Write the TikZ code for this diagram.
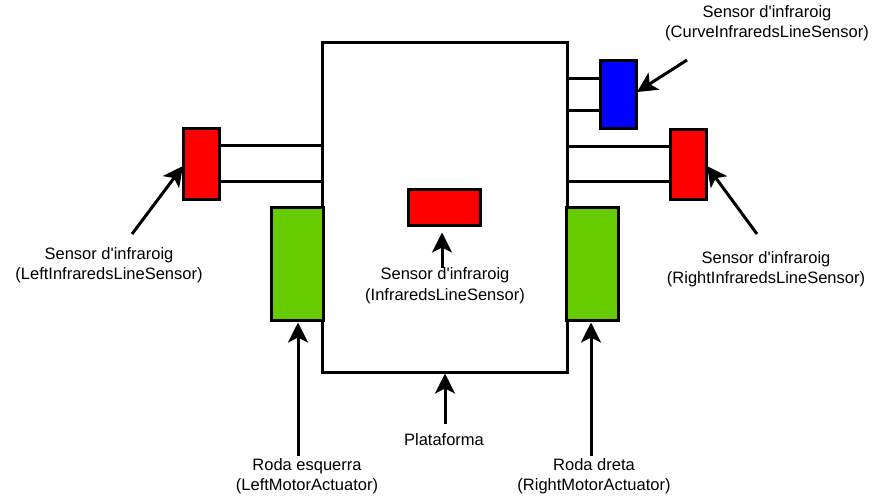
\documentclass[tikz,border=0pt]{standalone}
\usepackage{fontspec}
\setmainfont{Liberation Sans}
\usetikzlibrary{arrows.meta}
\definecolor{rred}{RGB}{255,0,0}
\definecolor{bblue}{RGB}{0,0,255}
\definecolor{ggreen}{RGB}{102,204,0}
\newcommand{\dq}{d\textquotesingle infraroig}
\tikzset{
  box/.style={draw=black, line width=3pt, inner sep=0pt, minimum width=#1},
  lbl/.style={align=center, inner sep=0pt, font=\fontsize{16.5}{20.5}\selectfont},
  conn/.style={line width=3pt},
  arr/.style={line width=3pt, -{Stealth[length=20pt,width=20pt,inset=5pt]}}
}
\begin{document}
\begin{tikzpicture}[x=1pt,y=-1pt]
\useasboundingbox (0,0) rectangle (874,496);
% platform
\node[box=245pt, minimum height=330pt, fill=white] (plat) at (444.5,207) {};
% side sensors
\node[box=36pt, minimum height=71pt, fill=rred] (lr) at (201,163.5) {};
\node[box=36pt, minimum height=70pt, fill=rred] (rr) at (688,164) {};
\node[box=36pt, minimum height=68pt, fill=bblue] (bl) at (618,94.5) {};
% wheels
\node[box=52pt, minimum height=113pt, fill=ggreen] (lw) at (297,263.5) {};
\node[box=52pt, minimum height=113pt, fill=ggreen] (rw) at (592.5,263.5) {};
% centre sensor
\node[box=72pt, minimum height=36pt, fill=rred] (cr) at (444,207) {};
% connectors
\draw[conn] ([yshift=18.5pt]lr.east) -- ([yshift=18.5pt]lr.east -| plat.west);
\draw[conn] ([yshift=-17.5pt]lr.east) -- ([yshift=-17.5pt]lr.east -| plat.west);
\draw[conn] ([yshift=18pt]rr.west) -- ([yshift=18pt]rr.west -| plat.east);
\draw[conn] ([yshift=-17pt]rr.west) -- ([yshift=-17pt]rr.west -| plat.east);
\draw[conn] ([yshift=16.5pt]bl.west) -- ([yshift=16.5pt]bl.west -| plat.east);
\draw[conn] ([yshift=-15.5pt]bl.west) -- ([yshift=-15.5pt]bl.west -| plat.east);
% labels
\node[lbl] (tl) at (767,23) {Sensor \dq\\(CurveInfraredsLineSensor)};
\node[lbl] (ll) at (109,265) {Sensor \dq\\(LeftInfraredsLineSensor)};
\node[lbl] (rl) at (766,269) {Sensor \dq\\(RightInfraredsLineSensor)};
\node[lbl] (cl) at (445,285.5) {Sensor \dq\\(InfraredsLineSensor)};
\node[lbl] (pl) at (444,440) {Plataforma};
\node[lbl] (lwl) at (307,476) {Roda esquerra\\(LeftMotorActuator)};
\node[lbl] (rwl) at (594,476) {Roda dreta\\(RightMotorActuator)};
% arrow starts
\coordinate (a1) at (687,60);
\coordinate (a2) at (132,234);
\coordinate (a3) at (757,234);
\coordinate (a4) at (442,268);
\coordinate (a5) at (445,424);
\coordinate (a6) at (298,456);
\coordinate (a7) at (591,456);
% arrows
\draw[arr] (a1) -- (637,92);
\draw[arr] (a2) -- (183,166);
\draw[arr] (a3) -- (707,166);
\draw[arr] (a4) -- ([yshift=-6pt]a4 |- cr.south);
\draw[arr] (a5) -- (a5 |- plat.south);
\draw[arr] (a6) -- ([yshift=-1pt]a6 |- lw.south);
\draw[arr] (a7) -- ([yshift=-1pt]a7 |- rw.south);
\end{tikzpicture}
\end{document}
